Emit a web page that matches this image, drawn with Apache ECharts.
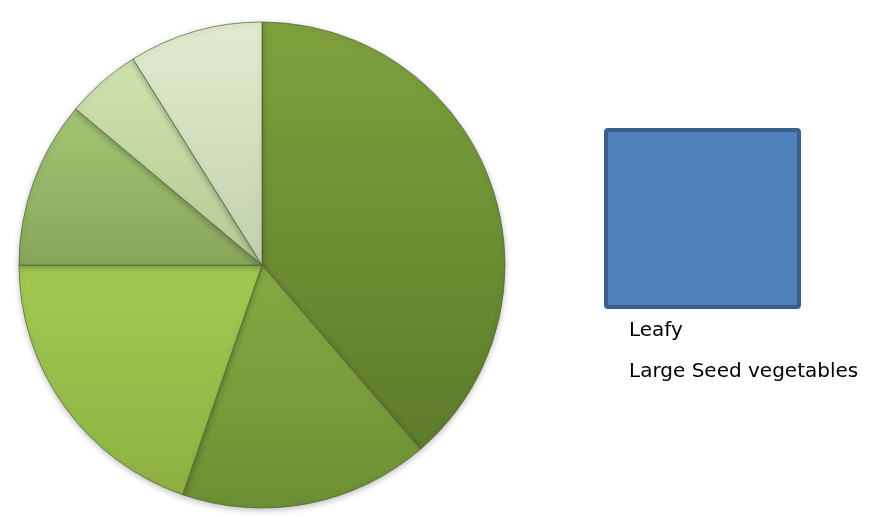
<!DOCTYPE html>
<html>
<head>
<meta charset="utf-8">
<title>Vegetables</title>
<script src="https://cdn.jsdelivr.net/npm/echarts@6/dist/echarts.min.js"></script>
<style>
    html, body { margin: 0; padding: 0; background: #fff; }
    #main { width: 884px; height: 517px; }
</style>
</head>
<body>
<div id="main"></div>
<script>
    // slice names (only the first two are named in the legend of the original)
    var categories = ['Leafy', 'Large Seed vegetables', 'Slice 3', 'Slice 4', 'Slice 5', 'Slice 6'];
    // percentages, clockwise from 12 o'clock
    var values = [38.7, 16.6, 19.7, 11.1, 5.0, 8.9];
    var legendNames = ['Leafy', 'Large Seed vegetables'];
    // top / bottom shade of each slice
    var topColors = ['#7ea13d', '#87aa45', '#a2ca52', '#a3c574', '#cfe3ae', '#e1ecce'];
    var bottomColors = ['#5d7b2b', '#6c8f33', '#8cb141', '#87a65b', '#b6ca95', '#c3d0ae'];

    var myChart = echarts.init(document.getElementById('main'));

    var pieData = [];
    for (var i = 0; i < values.length; i++) {
        pieData.push({
            name: categories[i],
            value: values[i],
            itemStyle: {
                color: new echarts.graphic.LinearGradient(0, 0, 0, 1, [
                    { offset: 0, color: topColors[i] },
                    { offset: 1, color: bottomColors[i] }
                ])
            }
        });
    }

    var option = {
        animation: false,
        legend: {
            orient: 'vertical',
            left: 623,
            top: 321,
            padding: 0,
            itemWidth: 0,
            itemHeight: 0,
            itemGap: 21,
            icon: 'rect',
            selectedMode: false,
            data: legendNames,
            textStyle: {
                fontFamily: 'DejaVu Sans',
                fontSize: 20,
                color: '#000'
            }
        },
        graphic: [{
            type: 'rect',
            left: 604,
            top: 128,
            shape: { width: 193, height: 177, r: 2 },
            style: { fill: '#4f81bd', stroke: '#3a5f8b', lineWidth: 4 }
        }],
        series: [{
            name: 'Vegetables',
            type: 'pie',
            center: [262, 265],
            radius: [0, 243],
            startAngle: 90,
            clockwise: true,
            label: { show: false },
            labelLine: { show: false },
            silent: true,
            itemStyle: {
                borderColor: 'rgba(80, 95, 60, 0.7)',
                borderWidth: 1,
                shadowBlur: 6,
                shadowColor: 'rgba(0, 0, 0, 0.25)',
                shadowOffsetY: 2
            },
            data: pieData
        }]
    };

    myChart.setOption(option);
</script>
</body>
</html>
